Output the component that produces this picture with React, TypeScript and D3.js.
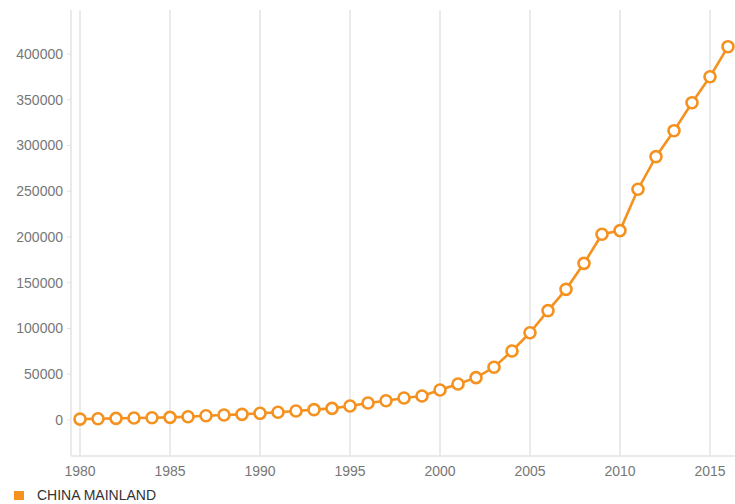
import React from "react";
import * as d3 from "d3";

const years: number[] = [1980,1981,1982,1983,1984,1985,1986,1987,1988,1989,1990,1991,1992,1993,1994,1995,1996,1997,1998,1999,2000,2001,2002,2003,2004,2005,2006,2007,2008,2009,2010,2011,2012,2013,2014,2015,2016];
const values: number[] = [1000,1400,1800,2200,2500,2900,3600,4700,5500,6200,7300,8400,9800,11300,12700,15300,18600,21100,24000,26200,32800,39400,46300,57600,75400,95400,119500,142800,171200,203000,207000,252200,287800,316200,346800,375200,408000];
const yTicks: number[] = [0,50000,100000,150000,200000,250000,300000,350000,400000];
const xTicks: number[] = [1980,1985,1990,1995,2000,2005,2010,2015];
const seriesName = "CHINA MAINLAND";

const W = 735, H = 504;
const ORANGE = "#f5911e";

export default function App() {
  const x = d3.scaleLinear().domain([1980, 2016]).range([80, 728]);
  const y = d3.scaleLinear().domain([0, 400000]).range([420, 54]);
  const top = 10, bottom = 456, left = 71;
  const data = years.map((yr, i) => ({ yr, v: values[i] }));
  const line = d3.line<{ yr: number; v: number }>().x(d => x(d.yr)).y(d => y(d.v));
  return (
    <svg width={W} height={H} style={{ position: "absolute", left: 0, top: 0, fontFamily: "Arial, 'Liberation Sans', sans-serif" }}>
      <rect width={W} height={H} fill="#fff" />
      {xTicks.map(t => (
        <line key={t} x1={x(t)} x2={x(t)} y1={top} y2={bottom} stroke="#e3e3e3" strokeWidth={1.5} />
      ))}
      <line x1={left} x2={left} y1={top} y2={bottom} stroke="#e3e3e3" strokeWidth={1.5} />
      <line x1={left} x2={W} y1={bottom} y2={bottom} stroke="#e3e3e3" strokeWidth={1.5} />
      {yTicks.map(t => (
        <g key={t}>
          <line x1={left - 4} x2={left} y1={y(t)} y2={y(t)} stroke="#e3e3e3" strokeWidth={1} />
          <text x={63} y={y(t)} dy="0.35em" textAnchor="end" fontSize={14} fill="#777">{t}</text>
        </g>
      ))}
      {xTicks.map(t => (
        <text key={t} x={x(t)} y={471} dy="0.35em" textAnchor="middle" fontSize={14} fill="#777">{t}</text>
      ))}
      <path d={line(data) || ""} fill="none" stroke={ORANGE} strokeWidth={2.6} />
      {data.map(d => (
        <circle key={d.yr} cx={x(d.yr)} cy={y(d.v)} r={5.5} fill="#fff" stroke={ORANGE} strokeWidth={2.6} />
      ))}
      <rect x={14} y={491} width={10} height={9} fill={ORANGE} />
      <text x={37} y={495} dy="0.35em" fontSize={14} fill="#333">{seriesName}</text>
    </svg>
  );
}
